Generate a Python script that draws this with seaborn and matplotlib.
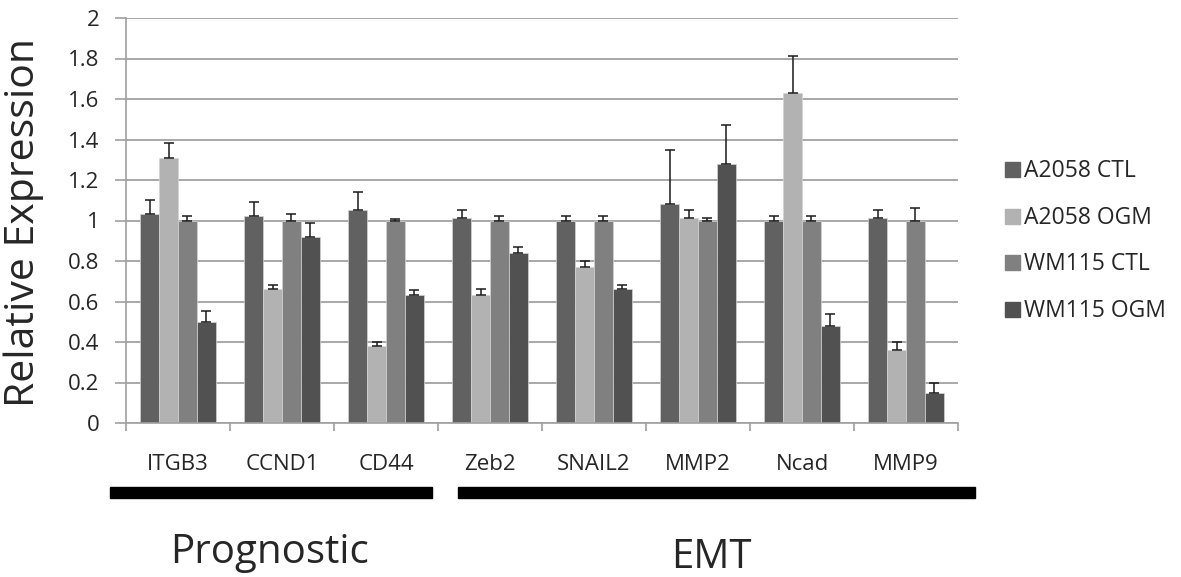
import numpy as np
import matplotlib
matplotlib.use("Agg")
import matplotlib.pyplot as plt
from matplotlib.lines import Line2D
from matplotlib.patches import Rectangle
from matplotlib.ticker import FixedLocator, FuncFormatter
import pandas as pd
import seaborn as sns

# Data
genes = ['ITGB3', 'CCND1', 'CD44', 'Zeb2', 'SNAIL2', 'MMP2', 'Ncad', 'MMP9']
groups = ['A2058 CTL', 'A2058 OGM', 'WM115 CTL', 'WM115 OGM']

a2058_ctl = [1.03, 1.02, 1.05, 1.01, 1.00, 1.08, 1.00, 1.01]
a2058_ogm = [1.31, 0.66, 0.38, 0.63, 0.77, 1.01, 1.63, 0.36]
wm115_ctl = [1.00, 1.00, 1.00, 1.00, 1.00, 1.00, 1.00, 1.00]
wm115_ogm = [0.50, 0.92, 0.63, 0.84, 0.66, 1.28, 0.48, 0.15]

a2058_ctl_err = [0.07, 0.07, 0.09, 0.04, 0.02, 0.27, 0.02, 0.04]
a2058_ogm_err = [0.075, 0.02, 0.02, 0.03, 0.03, 0.04, 0.18, 0.04]
wm115_ctl_err = [0.02, 0.03, 0.005, 0.02, 0.02, 0.01, 0.02, 0.06]
wm115_ogm_err = [0.055, 0.07, 0.025, 0.03, 0.02, 0.19, 0.06, 0.05]

yticks = [0, 0.2, 0.4, 0.6, 0.8, 1.0, 1.2, 1.4, 1.6, 1.8, 2.0]
colors = ['#616161', '#b2b2b2', '#808080', '#515151']

values = [a2058_ctl, a2058_ogm, wm115_ctl, wm115_ogm]
errors = [a2058_ctl_err, a2058_ogm_err, wm115_ctl_err, wm115_ogm_err]

df = pd.DataFrame({
    'gene': genes * 4,
    'group': [g for g in groups for _ in genes],
    'value': sum(values, []),
})

sns.set_style('white')
plt.rcParams['font.family'] = ['Open Sans', 'DejaVu Sans']

fig = plt.figure(figsize=(11.81, 5.77), dpi=100)
ax = fig.add_axes([126 / 1181, 1 - 423 / 577, (958 - 126) / 1181, (423 - 18) / 577])

sns.barplot(data=df, x='gene', y='value', hue='group', palette=colors,
            width=0.73, errorbar=None, edgecolor='#d4d4d4', linewidth=0.5,
            legend=False, ax=ax, zorder=2)

# one-sided error bars
for cont, err in zip(ax.containers, errors):
    xs = [b.get_x() + b.get_width() / 2 for b in cont]
    ys = [b.get_height() for b in cont]
    ax.errorbar(xs, ys, yerr=[np.zeros(len(err)), err], fmt='none',
                ecolor='#1a1a1a', elinewidth=1.1, capsize=3.6, capthick=1.1, zorder=3)

ax.set_ylim(0, 2)
ax.set_xlim(-0.5, len(genes) - 0.5)
ax.set_yticks(yticks)
ax.yaxis.set_major_formatter(FuncFormatter(lambda v, p: '%g' % v))
ax.yaxis.grid(True, color='#a8a8a8', linewidth=1.4, zorder=0)
ax.set_axisbelow(True)

ax.set_xlabel('')
ax.set_ylabel('Relative Expression', fontsize=29.5)
ax.yaxis.set_label_coords((44 - 126) / 832, 0.495)

for s in ['top', 'right']:
    ax.spines[s].set_visible(False)
for s in ['left', 'bottom']:
    ax.spines[s].set_color('#a0a0a0')
    ax.spines[s].set_linewidth(1.2)

ax.tick_params(axis='y', which='major', length=8, width=1.2, color='#a0a0a0',
               labelsize=16, pad=11, left=True)
ax.tick_params(axis='x', which='major', length=0, labelsize=16, pad=22)
ax.xaxis.set_minor_locator(FixedLocator(np.arange(-0.5, len(genes), 1.0)))
ax.tick_params(axis='x', which='minor', length=6, width=1.2, color='#a0a0a0', bottom=True)

# group bars and captions below the axis
fig.add_artist(Rectangle((110 / 1181, 1 - 498 / 577), (432 - 110) / 1181, 11 / 577,
                         transform=fig.transFigure, color='black'))
fig.add_artist(Rectangle((458 / 1181, 1 - 498 / 577), (975 - 458) / 1181, 11 / 577,
                         transform=fig.transFigure, color='black'))
fig.text(270 / 1181, 1 - 563 / 577, 'Prognostic', ha='center', va='baseline', fontsize=29)
fig.text(711 / 1181, 1 - 568 / 577, 'EMT', ha='center', va='baseline', fontsize=29)

handles = [Line2D([], [], marker='s', linestyle='', markersize=10.8, color=c) for c in colors]
fig.legend(handles, groups, loc='center left', bbox_to_anchor=(995 / 1181, 1 - 241 / 577),
           frameon=False, fontsize=16.5, handlelength=0.7, handletextpad=0.15,
           labelspacing=1.0, borderaxespad=0)

fig.savefig('out.png', dpi=100)
